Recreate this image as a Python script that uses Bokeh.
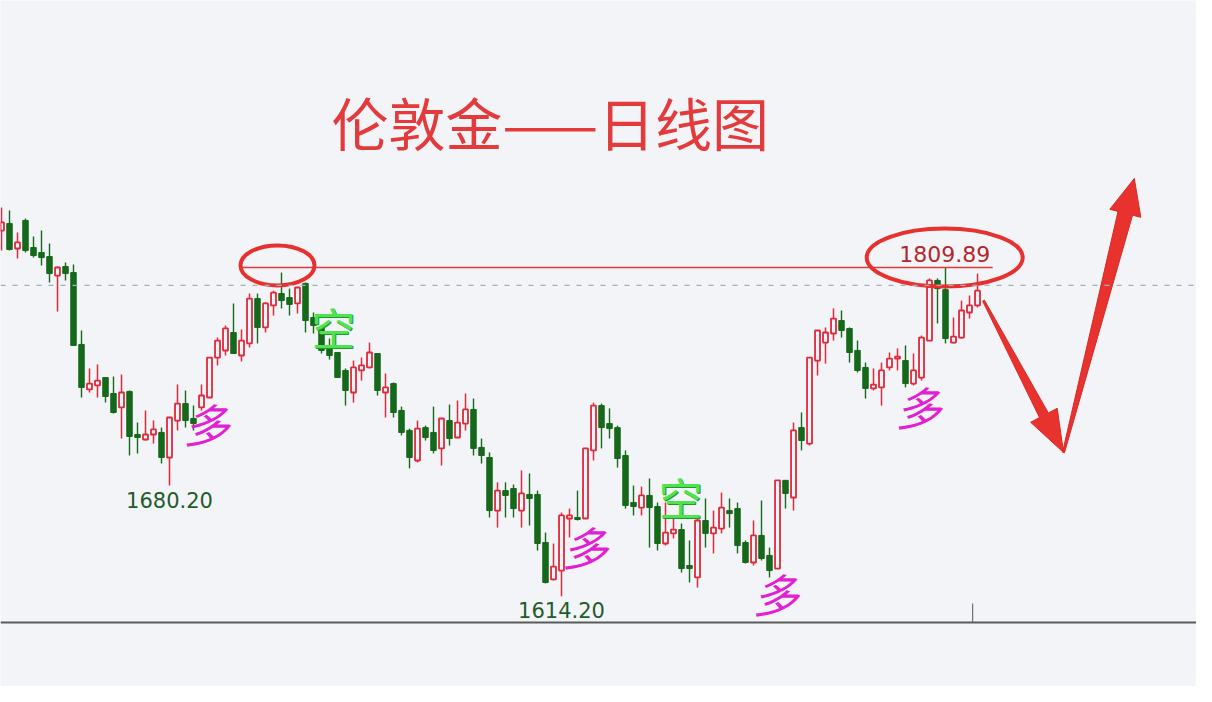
import math
from bokeh.plotting import figure
from bokeh.models import ColumnDataSource, Span, Range1d
from bokeh.embed import file_html
from bokeh.resources import INLINE
from bokeh.core.properties import value

# ---------------- data ----------------
opens = [1831.9, 1836.1, 1821.2, 1837.9, 1821.8, 1818.8, 1816.4, 1805.1, 1810.5, 1806.9,
         1764.1, 1737.3, 1739.7, 1744.4, 1734.9, 1726.6, 1736.1, 1710.5, 1707.5, 1710.5,
         1711.7, 1696.8, 1718.8, 1728.9, 1720.0, 1726.6, 1732.5, 1756.3, 1760.5, 1771.2,
         1757.5, 1764.7, 1791.4, 1774.2, 1787.3, 1794.4, 1792.0, 1788.5, 1800.4, 1780.1,
         1774.2, 1762.3, 1759.3, 1748.6, 1735.5, 1748.6, 1750.4, 1758.7, 1735.5, 1740.8,
         1724.8, 1712.9, 1695.0, 1714.6, 1711.7, 1702.2, 1718.8, 1708.7, 1717.0, 1725.4,
         1702.8, 1696.8, 1665.2, 1677.1, 1678.3, 1665.2, 1674.8, 1674.8, 1646.2, 1624.2,
         1629.5, 1660.5, 1661.1, 1660.5, 1701.0, 1727.7, 1717.0, 1714.6, 1698.0, 1670.0,
         1667.0, 1674.2, 1667.6, 1645.6, 1651.6, 1653.9, 1632.5, 1625.4, 1659.3, 1651.6,
         1654.5, 1665.2, 1666.4, 1646.2, 1634.3, 1650.4, 1638.5, 1630.7, 1683.2, 1673.0,
         1714.6, 1705.1, 1754.5, 1765.2, 1770.6, 1778.3, 1773.6, 1760.5, 1750.4, 1737.9,
         1738.5, 1750.4, 1755.7, 1754.5, 1740.8, 1744.4, 1766.4, 1802.2, 1796.7, 1765.2,
         1768.2, 1783.1, 1787.3]
highs = [1845.6, 1843.8, 1830.7, 1839.1, 1828.3, 1831.9, 1824.2, 1810.5, 1812.9, 1811.7,
         1772.4, 1749.8, 1752.1, 1744.4, 1745.0, 1746.2, 1736.7, 1717.6, 1724.8, 1718.8,
         1714.6, 1720.6, 1740.2, 1736.7, 1727.7, 1740.2, 1756.3, 1768.2, 1775.4, 1788.5,
         1773.0, 1794.4, 1794.4, 1789.1, 1796.1, 1806.9, 1797.3, 1798.0, 1801.0, 1783.1,
         1775.4, 1767.6, 1759.3, 1749.8, 1754.5, 1756.3, 1765.2, 1758.7, 1746.8, 1741.4,
         1727.1, 1714.0, 1718.8, 1715.8, 1727.1, 1720.0, 1728.3, 1730.7, 1734.9, 1731.9,
         1708.1, 1699.8, 1682.0, 1682.0, 1680.7, 1689.1, 1687.3, 1677.1, 1652.1, 1645.6,
         1664.0, 1666.4, 1677.1, 1702.2, 1729.5, 1728.9, 1726.0, 1715.8, 1701.0, 1680.1,
         1679.5, 1684.3, 1670.0, 1670.0, 1662.3, 1657.5, 1647.4, 1660.5, 1672.4, 1665.2,
         1675.9, 1672.4, 1670.0, 1647.4, 1659.3, 1671.2, 1643.2, 1683.2, 1683.2, 1717.6,
         1723.6, 1756.3, 1772.4, 1774.2, 1785.5, 1784.3, 1774.2, 1766.4, 1753.3, 1749.8,
         1753.3, 1759.3, 1761.7, 1763.5, 1758.7, 1769.4, 1803.4, 1803.4, 1809.89, 1780.1,
         1790.2, 1793.2, 1806.3]
lows = [1820.0, 1820.0, 1815.2, 1818.8, 1815.8, 1811.1, 1801.0, 1783.7, 1802.2, 1763.5,
        1732.5, 1735.5, 1732.5, 1729.5, 1723.0, 1708.1, 1698.0, 1699.2, 1706.9, 1705.1,
        1693.2, 1680.2, 1712.9, 1714.6, 1712.9, 1724.8, 1732.5, 1751.6, 1757.5, 1758.7,
        1753.9, 1762.3, 1764.7, 1771.2, 1781.3, 1785.5, 1781.3, 1782.5, 1771.2, 1770.6,
        1758.7, 1755.1, 1744.4, 1727.7, 1729.5, 1742.6, 1749.8, 1733.7, 1720.6, 1720.6,
        1709.9, 1690.3, 1693.8, 1706.9, 1699.2, 1692.0, 1703.9, 1708.7, 1712.9, 1698.0,
        1693.2, 1661.1, 1655.1, 1661.1, 1661.1, 1655.1, 1656.3, 1641.4, 1621.8, 1623.6,
        1614.2, 1649.2, 1659.3, 1660.5, 1695.0, 1702.2, 1708.1, 1690.8, 1666.4, 1662.3,
        1662.3, 1643.2, 1641.4, 1644.4, 1648.6, 1628.3, 1622.4, 1619.4, 1643.2, 1639.7,
        1651.6, 1655.1, 1639.7, 1633.7, 1632.5, 1635.5, 1625.4, 1630.7, 1666.4, 1665.2,
        1701.0, 1703.9, 1745.6, 1752.7, 1766.4, 1768.2, 1753.3, 1747.4, 1731.9, 1736.7,
        1727.7, 1748.6, 1748.6, 1738.5, 1739.7, 1742.6, 1766.4, 1776.6, 1764.7, 1764.7,
        1767.6, 1779.5, 1786.1]
closes = [1836.7, 1820.6, 1824.8, 1820.0, 1817.0, 1815.8, 1806.3, 1809.9, 1806.3, 1763.5,
          1738.5, 1740.8, 1742.6, 1733.1, 1723.6, 1735.5, 1709.3, 1708.7, 1710.5, 1713.5,
          1696.8, 1720.6, 1728.9, 1718.8, 1717.0, 1733.7, 1756.3, 1766.4, 1773.6, 1758.7,
          1766.4, 1791.4, 1774.2, 1788.5, 1794.9, 1790.2, 1787.9, 1798.0, 1778.3, 1775.4,
          1760.5, 1757.5, 1744.4, 1736.7, 1750.4, 1751.6, 1759.3, 1736.7, 1738.5, 1723.6,
          1711.7, 1696.8, 1714.0, 1708.7, 1701.0, 1720.0, 1708.1, 1717.6, 1725.4, 1702.2,
          1698.0, 1665.2, 1677.1, 1674.2, 1666.4, 1675.4, 1672.4, 1645.6, 1622.4, 1631.9,
          1662.3, 1662.3, 1659.9, 1702.2, 1727.7, 1714.6, 1714.0, 1696.2, 1668.2, 1667.6,
          1674.2, 1667.0, 1645.6, 1652.1, 1653.9, 1630.7, 1630.7, 1659.3, 1651.6, 1655.1,
          1667.0, 1663.4, 1644.4, 1634.3, 1650.4, 1636.7, 1629.5, 1683.2, 1675.4, 1712.9,
          1706.9, 1756.3, 1772.4, 1771.2, 1779.5, 1772.4, 1759.3, 1748.6, 1737.9, 1740.2,
          1748.6, 1755.7, 1756.9, 1740.8, 1748.6, 1768.2, 1802.2, 1797.3, 1767.6, 1768.8,
          1784.3, 1787.3, 1796.1]

title_text = "伦敦金——日线图"
resistance_level = 1809.89
resistance_label = "1809.89"
last_price_level = 1799.2
low_labels = ["1680.20", "1614.20"]
low_values = [1680.20, 1614.20]
low_index = [21, 70]

note_text = ["多", "多", "多", "多", "空", "空"]
note_x = [25.6, 72.9, 96.75, 114.6, 41.5, 84.9]
note_y = [1717.6, 1644.4, 1615.9, 1727.7, 1774.2, 1673.0]

# ---------------- layout ----------------
W, H = 1196, 686
PX_X = 8.0          # pixels per candle
PX_Y = 1.68         # pixels per price unit
X0 = -0.125
Y_TOP = 1968.82
X1 = X0 + W / PX_X
Y_BOT = Y_TOP - H / PX_Y

def price_at(py):
    return Y_TOP - py / PX_Y

BG = "#f3f4f8"
RED = "#e0283a"
GREEN = "#16681a"

p = figure(width=W, height=H, output_backend="svg", toolbar_location=None,
           x_range=Range1d(X0, X1), y_range=Range1d(Y_BOT, Y_TOP),
           min_border=0, background_fill_color=BG, border_fill_color=BG,
           outline_line_color=None)
p.axis.visible = False
p.grid.visible = False

idx = list(range(len(opens)))
up = [i for i in idx if closes[i] >= opens[i]]
dn = [i for i in idx if closes[i] < opens[i]]

def src(ids):
    return ColumnDataSource(dict(
        x=ids,
        hi=[highs[i] for i in ids],
        lo=[lows[i] for i in ids],
        top=[max(opens[i], closes[i]) for i in ids],
        bot=[min(opens[i], closes[i]) for i in ids],
    ))

s_up, s_dn = src(up), src(dn)
p.segment(x0="x", y0="hi", x1="x", y1="lo", source=s_dn, line_color=GREEN, line_width=1.4)
p.vbar(x="x", top="top", bottom="bot", width=0.68, source=s_dn,
       fill_color=GREEN, line_color=GREEN, line_width=1)
p.segment(x0="x", y0="hi", x1="x", y1="lo", source=s_up, line_color=RED, line_width=1.5)
p.vbar(x="x", top="top", bottom="bot", width=0.62, source=s_up,
       fill_color=BG, line_color=RED, line_width=1.8)

# last price dashed line
p.add_layout(Span(location=last_price_level, dimension="width",
                  line_color="#a3aebd", line_width=1.2, line_dash="5 7"))
# baseline (x axis line) and a small tick
p.add_layout(Span(location=price_at(622), dimension="width",
                  line_color="#5a5a5a", line_width=2))
tick_i = 121.4
p.segment(x0=[tick_i], y0=[price_at(603)], x1=[tick_i], y1=[price_at(622)],
          line_color="#555555", line_width=1)

# resistance line
p.segment(x0=[29.9], y0=[resistance_level], x1=[123.9], y1=[resistance_level],
          line_color="#e0393a", line_width=1.6)

# circles
p.ellipse(x=[34.5, 117.9], y=[1811.1, 1815.8], width=[74, 156], height=[40, 58],
          width_units="screen", height_units="screen",
          fill_color=None, line_color="#e8302e", line_width=4)

# texts
p.text(x=[123.6], y=[1818.2], text=[resistance_label], text_align="right",
       text_baseline="middle", text_color="#b3272c", text_font_size="22px",
       text_font=value("DejaVu Sans"))
p.text(x=low_index, y=[low_values[0] - 8.6, low_values[1] - 8.2], text=low_labels,
       text_align="center", text_baseline="middle", text_color="#1f5c2a",
       text_font_size="21px", text_font=value("DejaVu Sans"))

p.text(x=[68.6], y=[1897.0], text=[title_text], text_align="center",
       text_baseline="middle", text_color="#e33b3b", text_font_size="57px",
       text_font=value("Noto Sans CJK SC"))

duo = [i for i, t in enumerate(note_text) if t == "多"]
kong = [i for i, t in enumerate(note_text) if t == "空"]
p.text(x=[note_x[i] for i in duo], y=[note_y[i] for i in duo], text=[note_text[i] for i in duo],
       text_align="center", text_baseline="middle", text_color="#e21fd2",
       text_font_size="46px", text_font=value("Noto Sans CJK SC"), text_font_style="italic")
p.text(x=[note_x[i] + 0.12 for i in kong], y=[note_y[i] - 0.6 for i in kong],
       text=[note_text[i] for i in kong], text_align="center", text_baseline="middle",
       text_color="#1f9a2a", text_font_size="44px", text_font=value("Noto Sans CJK SC"))
p.text(x=[note_x[i] for i in kong], y=[note_y[i] for i in kong],
       text=[note_text[i] for i in kong], text_align="center", text_baseline="middle",
       text_color="#4fe34f", text_font_size="44px", text_font=value("Noto Sans CJK SC"))

# arrows (built in pixel space, converted to data)
def to_px(i, pr):
    return (i - X0) * PX_X, (Y_TOP - pr) * PX_Y

def to_data(x, y):
    return X0 + x / PX_X, Y_TOP - y / PX_Y

def arrow(i0, p0, i1, p1, w_tail, w_shaft, w_head, head_len):
    x0, y0 = to_px(i0, p0)
    x1, y1 = to_px(i1, p1)
    dx, dy = x1 - x0, y1 - y0
    L = math.hypot(dx, dy)
    ux, uy = dx / L, dy / L
    nx, ny = -uy, ux
    bx, by = x1 - ux * head_len, y1 - uy * head_len
    pts = [(x0 + nx * w_tail, y0 + ny * w_tail),
           (bx + nx * w_shaft, by + ny * w_shaft),
           (bx + nx * w_head, by + ny * w_head),
           (x1, y1),
           (bx - nx * w_head, by - ny * w_head),
           (bx - nx * w_shaft, by - ny * w_shaft),
           (x0 - nx * w_tail, y0 - ny * w_tail)]
    d = [to_data(x, y) for x, y in pts]
    return [a for a, b in d], [b for a, b in d]

ax1, ay1 = arrow(122.75, 1790.2, 132.75, 1699.8, 1.0, 5.0, 15.0, 42.0)
ax2, ay2 = arrow(132.75, 1699.8, 141.6, 1862.9, 1.0, 7.5, 16.0, 36.0)
p.patches(xs=[ax1, ax2], ys=[ay1, ay2], fill_color="#e8322e", line_color="#d82a28", line_width=1)

open("out.html", "w").write(file_html(p, INLINE))
